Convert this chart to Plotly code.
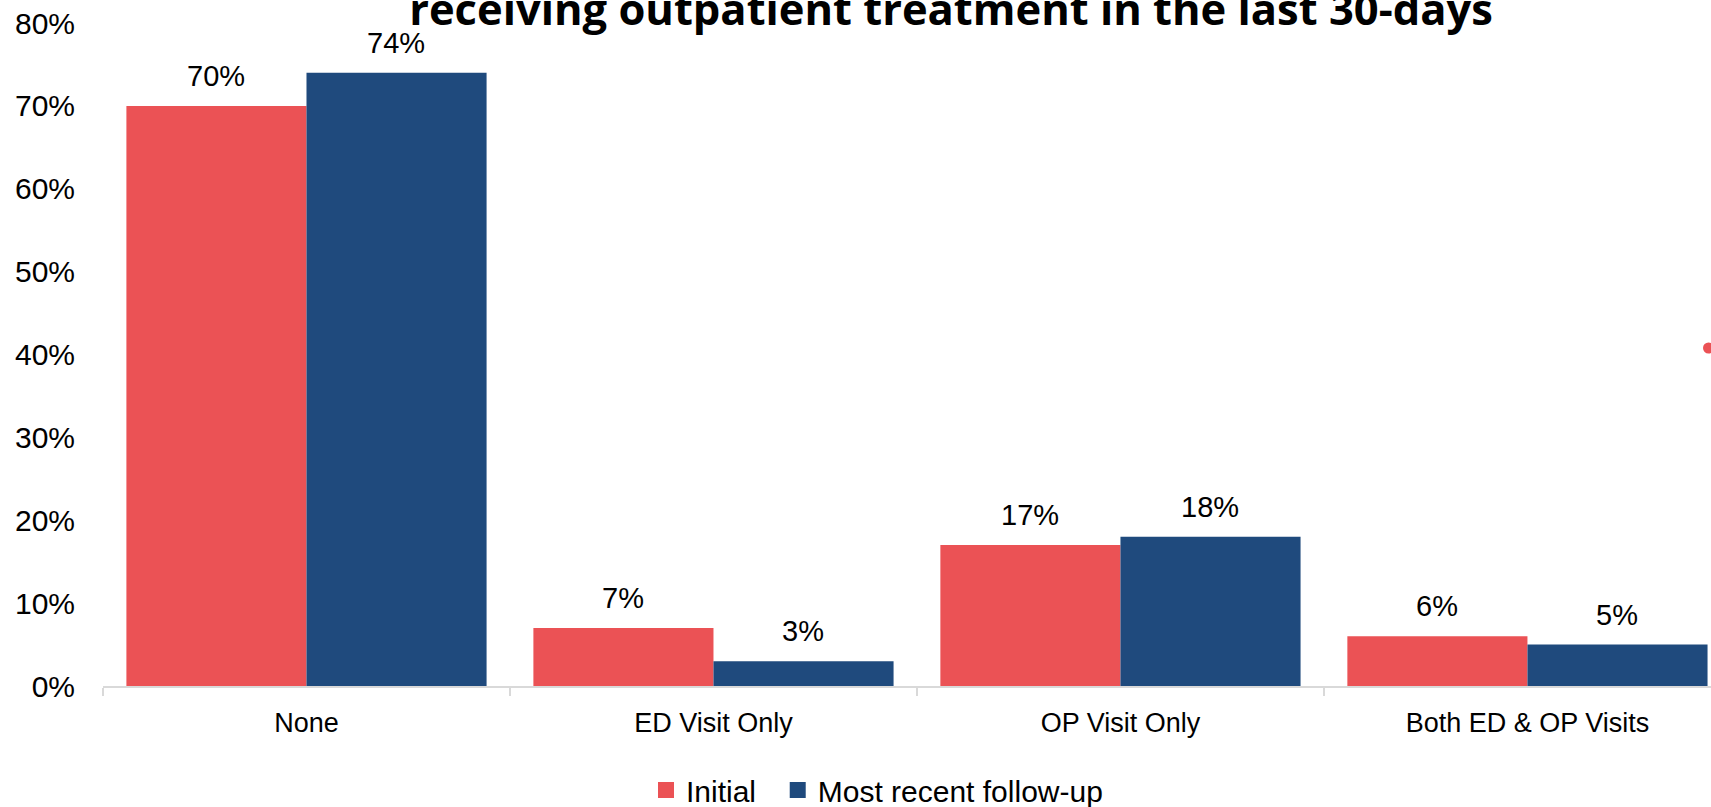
import plotly.graph_objects as go

categories = ["None", "ED Visit Only", "OP Visit Only", "Both ED & OP Visits"]
initial = [0.70, 0.07, 0.17, 0.06]
follow_up = [0.74, 0.03, 0.18, 0.05]
series_names = ["Initial", "Most recent follow-up"]
title_text = "receiving outpatient treatment in the last 30-days"

RED = "#EB5255"
BLUE = "#1F4A7D"
LABEL_FONT = "Liberation Sans, Arial, sans-serif"
TITLE_FONT = "Open Sans, sans-serif"

fig = go.Figure()
for i, (name, values, color) in enumerate([(series_names[0], initial, RED),
                                           (series_names[1], follow_up, BLUE)]):
    fig.add_trace(go.Bar(x=categories, y=values, name=name, marker_color=color,
                         marker_line_width=0, showlegend=False))
    # legend-only entry with a larger square swatch; pad the first one for spacing
    label = name + "&nbsp;" * 2 if i == 0 else name
    fig.add_trace(go.Scatter(x=[None], y=[None], mode="markers", name=label,
                             marker=dict(symbol="square", size=16, color=color)))

# value labels above each bar
annotations = []
for values, shift in [(initial, -90), (follow_up, 90)]:
    for cat, v in zip(categories, values):
        annotations.append(dict(x=cat, y=v, xref="x", yref="y", text=f"{v:.0%}",
                                showarrow=False, xshift=shift, yshift=12, yanchor="bottom",
                                font=dict(family=LABEL_FONT, size=29, color="black")))

fig.update_layout(
    width=1711, height=807, autosize=False,
    margin=dict(l=103, r=0, t=23, b=121, autoexpand=False),
    paper_bgcolor="white", plot_bgcolor="white",
    barmode="group", bargap=0.115, bargroupgap=0,
    title=dict(text=f"<b>{title_text}</b>", x=951 / 1711, xanchor="center",
               yref="container", y=1 - 25 / 807, yanchor="bottom",
               font=dict(family=TITLE_FONT, size=43.5, color="black")),
    legend=dict(orientation="h", xanchor="left", x=(646 - 103) / 1608, yref="paper",
                y=(686 - 816) / 663, yanchor="bottom",
                font=dict(family=LABEL_FONT, size=30, color="black"),
                bgcolor="rgba(0,0,0,0)"),
    annotations=annotations,
    shapes=[dict(type="circle", xref="paper", yref="paper",
                 x0=(1703 - 103) / 1608, x1=(1714 - 103) / 1608,
                 y0=(686 - 353.5) / 663, y1=(686 - 342.5) / 663,
                 fillcolor=RED, line_width=0)],
)
fig.update_xaxes(range=[-0.5, 3.451], showline=True, linecolor="#d9d9d9", linewidth=2,
                 ticks="outside", tickson="boundaries", ticklen=8, tickwidth=2,
                 tickcolor="#d9d9d9", showgrid=False, zeroline=False, automargin=False,
                 ticklabelstandoff=12,
                 tickfont=dict(family=LABEL_FONT, size=27, color="black"))
fig.update_yaxes(range=[0, 0.8], dtick=0.1, tickformat=".0%", showgrid=False,
                 zeroline=False, showline=False, ticks="outside", ticklen=21,
                 tickcolor="rgba(0,0,0,0)", automargin=False,
                 tickfont=dict(family=LABEL_FONT, size=30, color="black"))

# the page must start at the window's top-left corner, as the reference does
fig.write_html("out.html", config={"displayModeBar": False},
               post_script="document.body.style.margin='0';")
